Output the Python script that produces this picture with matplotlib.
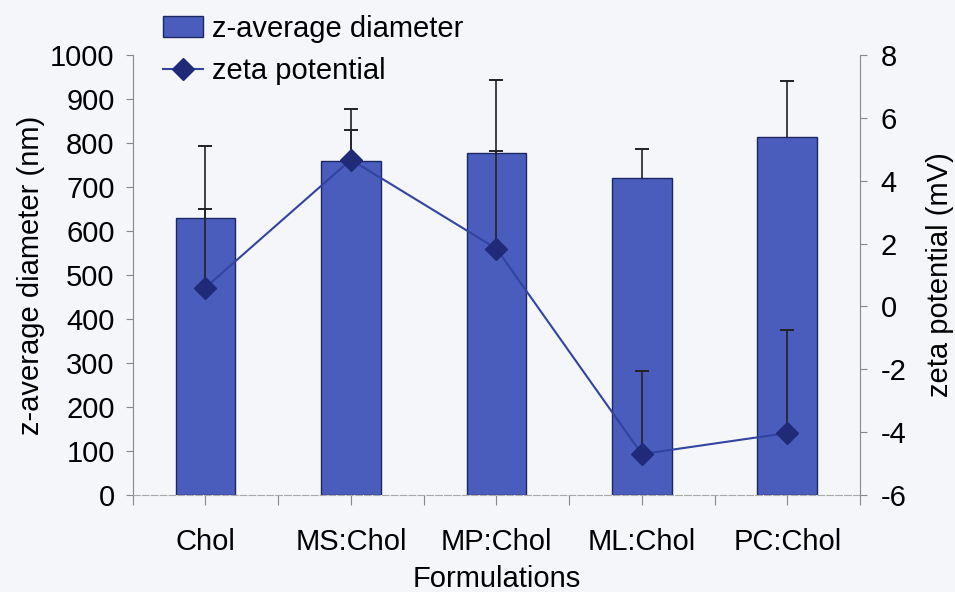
import numpy as np
import matplotlib.pyplot as plt
from matplotlib.ticker import MultipleLocator, FixedLocator

formulations = ["Chol", "MS:Chol", "MP:Chol", "ML:Chol", "PC:Chol"]
diameter = [630, 759, 777, 720, 814]
diameter_err = [163, 118, 166, 66, 127]
zeta = [0.6, 4.67, 1.84, -4.7, -4.03]
zeta_err = [2.5, 0.95, 3.1, 2.64, 3.27]

bg = "#f5f6fa"
plt.rcParams["font.family"] = ["Liberation Sans", "DejaVu Sans"]
plt.rcParams["axes.unicode_minus"] = False
fs = 21


def up_errors(axis, xs, ys, errs):
    # one-sided error bars: stem from the value up, cap only at the top
    tops = np.array(ys) + np.array(errs)
    axis.vlines(xs, ys, tops, color="#222222", linewidth=1.2, zorder=3)
    axis.plot(xs, tops, ls="none", marker="_", markersize=10,
              markeredgewidth=1.4, color="#222222", zorder=3)


fig = plt.figure(figsize=(9.55, 5.92), dpi=100, facecolor=bg)
ax = fig.add_axes([0.139, 0.164, 0.7615, 0.743])
ax.set_facecolor(bg)
x = np.arange(len(formulations))

bars = ax.bar(x, diameter, width=0.41, color="#4a5dbd", edgecolor="#1c2660",
              linewidth=1.0, label="z-average diameter", zorder=2)
up_errors(ax, x, diameter, diameter_err)

ax.set_xlim(-0.5, 4.5)
ax.set_ylim(0, 1000)
ax.yaxis.set_major_locator(MultipleLocator(100))
ax.set_xticks(x)
ax.set_xticklabels(formulations)
ax.xaxis.set_minor_locator(FixedLocator(np.arange(-0.5, 5, 1)))
ax.tick_params(axis="x", which="both", direction="out", length=7, width=0.8,
               color="#888888", labelsize=fs, pad=17)
ax.tick_params(axis="y", direction="out", length=5, width=0.8, color="#888888",
               labelsize=fs, pad=8)
for s in ["top", "right"]:
    ax.spines[s].set_visible(False)
ax.spines["left"].set_color("#888888")
ax.spines["bottom"].set_color("#aaaaaa")
ax.spines["bottom"].set_linestyle((0, (6, 2)))
ax.set_ylabel("z-average diameter (nm)", fontsize=fs, labelpad=4)
ax.set_xlabel("Formulations", fontsize=fs, labelpad=6)

ax2 = ax.twinx()
up_errors(ax2, x, zeta, zeta_err)
line, = ax2.plot(x, zeta, color="#3344a0", linewidth=1.5, marker="D",
                 markersize=11, markerfacecolor="#1f2a78",
                 markeredgecolor="#1f2a78", label="zeta potential", zorder=4)
ax2.set_ylim(-6, 8)
ax2.yaxis.set_major_locator(MultipleLocator(2))
ax2.tick_params(axis="y", direction="out", length=5, width=0.8,
                color="#888888", labelsize=fs, pad=10)
for s in ["top", "left", "bottom"]:
    ax2.spines[s].set_visible(False)
ax2.spines["right"].set_color("#888888")
ax2.set_ylabel("zeta potential (mV)", fontsize=fs, labelpad=14)

fig.legend([bars, line], ["z-average diameter", "zeta potential"],
           loc="upper left", bbox_to_anchor=(0.158, 0.995), frameon=False,
           fontsize=fs, handlelength=1.4, handletextpad=0.3,
           labelspacing=0.5, borderaxespad=0)

fig.savefig("out.png", dpi=100, facecolor=bg)
